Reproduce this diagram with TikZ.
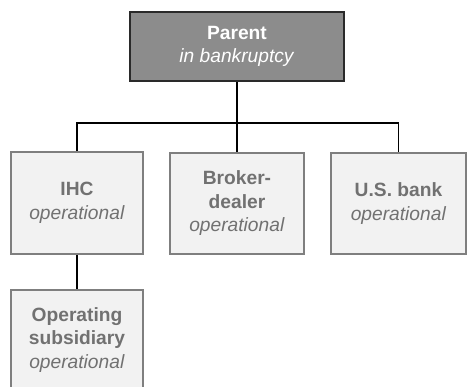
\documentclass[tikz,border=0pt]{standalone}
\usepackage{fontspec}
\setmainfont{Liberation Sans}
\definecolor{boxfill}{HTML}{F2F2F2}
\definecolor{boxline}{HTML}{7F7F7F}
\definecolor{boxtext}{HTML}{717171}
\definecolor{parfill}{HTML}{8C8C8C}
\definecolor{parline}{HTML}{2A2A2A}
\begin{document}
\begin{tikzpicture}[x=1pt,y=1pt,
  entity/.style={draw=boxline, fill=boxfill, line width=1.7pt, inner sep=0pt, align=center,
    text=boxtext, font=\fontsize{19.2}{23.5}\selectfont},
  parentbox/.style={draw=parline, fill=parfill, line width=1.7pt, inner sep=0pt, align=center,
    text=white, font=\fontsize{19.2}{23.5}\selectfont},
  link/.style={draw=black, line width=1.8pt}]
\useasboundingbox (0,0) rectangle (469,-386);
\clip (0,0) rectangle (469,-386);
\node[parentbox, minimum width=214, minimum height=69] (parent) at (237,-46.5)
  {\textbf{Parent}\\\textit{in bankruptcy}};
\node[entity, minimum width=132, minimum height=102] (ihc) at (77,-203)
  {\textbf{IHC}\\\textit{operational}};
\node[entity, minimum width=134, minimum height=101] (bd) at (237,-203.5)
  {\textbf{Broker-}\\\textbf{dealer}\\\textit{operational}};
\node[entity, minimum width=135, minimum height=101] (usb) at (398.5,-203.5)
  {\textbf{U.S. bank}\\\textit{operational}};
\node[entity, minimum width=132, minimum height=100] (ops) at (77,-340)
  {\textbf{Operating}\\\textbf{subsidiary}\\\textit{operational}};
\coordinate (j) at (237,-123);
\draw[link] (parent.south) -- (bd.north);
\draw[link] (ihc.north) |- (j) -| (usb.north);
\draw[link] (ihc.south) -- (ops.north);
\end{tikzpicture}
\end{document}
